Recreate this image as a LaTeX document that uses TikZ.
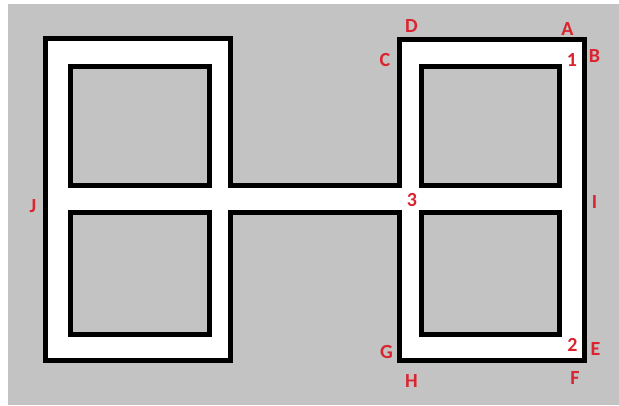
\documentclass[tikz,border=0pt]{standalone}
\usepackage{fontspec}
\setmainfont{Carlito}
\definecolor{bggray}{RGB}{195,195,195}
\definecolor{lblred}{RGB}{218,36,48}
\begin{document}
\begin{tikzpicture}[x=1pt,y=-1pt,
  wall/.style={line width=5pt,line join=miter},
  lbl/.style={text=lblred,font=\bfseries\fontsize{20}{20}\selectfont,inner sep=0pt,anchor=center}]
\useasboundingbox (0,0) rectangle (619,405);
\fill[bggray] (8,4) rectangle (619,405);
% outer track contour
\draw[wall,fill=white] (45.5,38.5) -- (230.5,38.5) -- (230.5,185.5) -- (399.5,185.5)
  -- (399.5,39) -- (584.5,39) -- (584.5,360) -- (399.5,360) -- (399.5,212.5)
  -- (230.5,212.5) -- (230.5,360.5) -- (45.5,360.5) -- cycle;
% inner squares
\draw[wall,fill=bggray] (70.5,66.5) rectangle (209.5,185.5);
\draw[wall,fill=bggray] (70.5,212.5) rectangle (209.5,334);
\draw[wall,fill=bggray] (421.5,66.5) rectangle (559.5,185.5);
\draw[wall,fill=bggray] (421.5,212.5) rectangle (559.5,334);
% labels
\node[lbl] (D) at (411.5,26.5) {D};
\node[lbl] (A) at (567.5,29) {A};
\node[lbl] (C) at (385,60) {C};
\node[lbl] (one) at (572,60) {1};
\node[lbl] (B) at (594.5,56) {B};
\node[lbl] (three) at (412,200) {3};
\node[lbl] (I) at (594.5,202.5) {I};
\node[lbl] (J) at (33,206) {J};
\node[lbl] (G) at (386.5,352) {G};
\node[lbl] (two) at (572.5,344.5) {2};
\node[lbl] (E) at (595.5,349) {E};
\node[lbl] (H) at (411.5,381.5) {H};
\node[lbl] (F) at (575,378.5) {F};
\end{tikzpicture}
\end{document}
